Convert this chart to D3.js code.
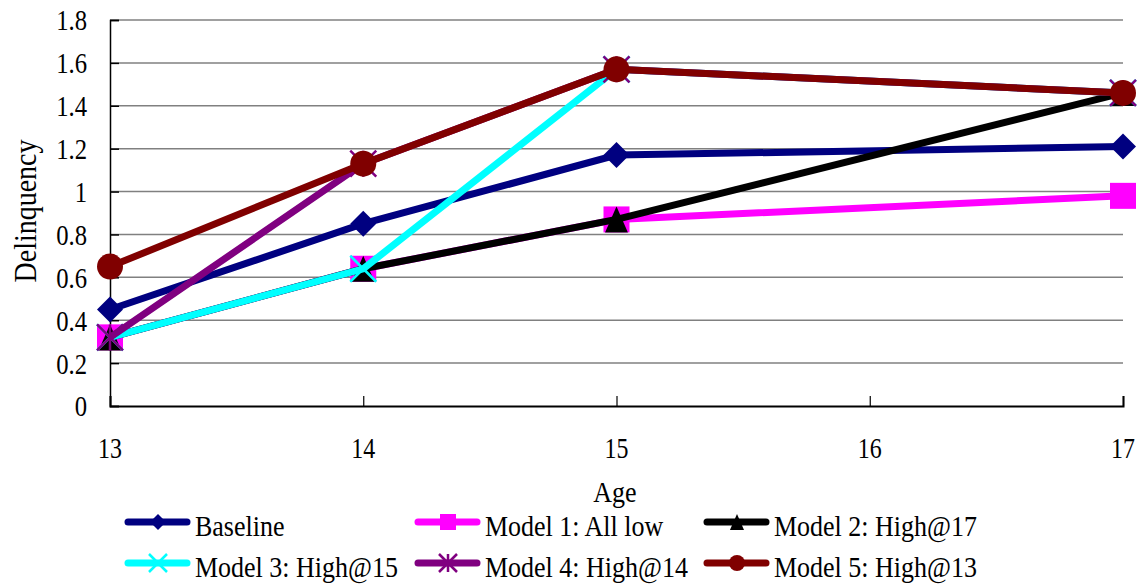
<!DOCTYPE html>
<html><head><meta charset="utf-8">
<script src="https://cdn.jsdelivr.net/npm/d3@7"></script>
<style>body{margin:0;background:#fff}svg{display:block}</style>
</head><body><svg id="c" width="1147" height="587" style="font-family:'Liberation Serif','DejaVu Serif',serif"></svg>
<script>
const ages = [13, 14, 15, 17];
const xTicks = [13, 14, 15, 16, 17];
const yTicks = [0, 0.2, 0.4, 0.6, 0.8, 1, 1.2, 1.4, 1.6, 1.8];
const seriesNames = ["Baseline", "Model 1: All low", "Model 2: High@17", "Model 3: High@15", "Model 4: High@14", "Model 5: High@13"];
const baseline = [0.45, 0.85, 1.17, 1.21];
const model1 = [0.32, 0.64, 0.87, 0.98];
const model2 = [0.32, 0.64, 0.87, 1.46];
const model3 = [0.32, 0.64, 1.57, 1.46];
const model4 = [0.32, 1.13, 1.57, 1.46];
const model5 = [0.65, 1.13, 1.57, 1.46];
const colors = ["#000080", "#FF00FF", "#000000", "#00FFFF", "#800080", "#800000"];
const shapes = ["diamond", "square", "triangle", "x", "star", "circle"];
const values = [baseline, model1, model2, model3, model4, model5];
const FONT = "'Liberation Serif','DejaVu Serif',serif";

const svg = d3.select("#c");
const x = d3.scaleLinear().domain([13, 17]).range([110, 1123]);
const y = d3.scaleLinear().domain([0, 1.8]).range([406, 20]);

// text helper: tall, slightly condensed serif look
function label(parent, tx, ty, str, opts = {}) {
  const sx = opts.sx || 1, sy = opts.sy || 1.15, rot = opts.rot || 0;
  return parent.append("text")
    .attr("transform", `translate(${tx},${ty}) rotate(${rot}) scale(${sx},${sy})`)
    .attr("text-anchor", opts.anchor || "start")
    .attr("dy", "0.35em")
    .attr("font-family", FONT).attr("font-size", opts.size || 26)
    .attr("fill", "#000").text(str);
}

// gridlines
svg.append("g").selectAll("line").data(yTicks.filter(d => d > 0)).join("line")
  .attr("x1", 110).attr("x2", 1123).attr("y1", d => y(d)).attr("y2", d => y(d))
  .attr("stroke", "#808080").attr("stroke-width", 1.5);

// y axis
const ya = svg.append("g").attr("transform", "translate(110,0)")
  .call(d3.axisRight(y).tickValues(yTicks).tickSize(9).tickFormat(""));
ya.select(".domain").attr("stroke", "#000").attr("stroke-width", 1.5);
ya.selectAll(".tick line").attr("stroke", "#000").attr("stroke-width", 1.5);
const yl = svg.append("g");
yTicks.forEach(d => label(yl, 87, y(d), d3.format("")(d), {anchor: "end", sx: 0.95}));

// x axis
const xa = svg.append("g").attr("transform", "translate(0,406)")
  .call(d3.axisTop(x).tickValues(xTicks).tickSize(10).tickFormat(""));
xa.select(".domain").attr("stroke", "#000").attr("stroke-width", 2);
xa.selectAll(".tick line").attr("stroke", "#000").attr("stroke-width", 1.2);
const xl = svg.append("g");
xTicks.forEach(d => label(xl, x(d), 448, d, {anchor: "middle", sx: 0.92}));

label(svg, 615, 492, "Age", {anchor: "middle"});
label(svg, 25, 211, "Delinquency", {anchor: "middle", rot: -90, size: 28});

function marker(g, shape, color, s) {
  if (shape === "diamond") g.append("path").attr("d", `M0,${-s}L${s},0L0,${s}L${-s},0Z`).attr("fill", color);
  else if (shape === "square") g.append("rect").attr("x", -s).attr("y", -s).attr("width", 2*s).attr("height", 2*s).attr("fill", color);
  else if (shape === "triangle") g.append("path").attr("d", `M0,${-s}L${s*0.88},${s}L${-s*0.88},${s}Z`).attr("fill", color);
  else if (shape === "circle") g.append("circle").attr("r", s).attr("fill", color);
  else if (shape === "x") g.append("path").attr("d", `M${-s},${-s}L${s},${s}M${-s},${s}L${s},${-s}`).attr("stroke", color).attr("stroke-width", 2.5);
  else if (shape === "star") g.append("path").attr("d", `M${-s},${-s}L${s},${s}M${-s},${s}L${s},${-s}M0,${-s}L0,${s}`).attr("stroke", color).attr("stroke-width", 2.5);
}

const line = d3.line().x((d, i) => x(ages[i])).y(d => y(d));
values.forEach((vals, k) => {
  svg.append("path").attr("d", line(vals)).attr("fill", "none")
    .attr("stroke", colors[k]).attr("stroke-width", 7).attr("stroke-linejoin", "miter");
  vals.forEach((v, i) => {
    const g = svg.append("g").attr("transform", `translate(${x(ages[i])},${y(v)})`);
    marker(g, shapes[k], colors[k], 13);
  });
});

// legend
const legX = [125, 415, 704];
const legY = [522, 563];
seriesNames.forEach((name, k) => {
  const lx = legX[k % 3], ly = legY[Math.floor(k / 3)];
  svg.append("line").attr("x1", lx + 3).attr("x2", lx + 62).attr("y1", ly).attr("y2", ly)
    .attr("stroke", colors[k]).attr("stroke-width", 7).attr("stroke-linecap", "round");
  const g = svg.append("g").attr("transform", `translate(${lx + 33},${ly})`);
  marker(g, shapes[k], colors[k], shapes[k] === "x" || shapes[k] === "star" ? 9 : 8);
  label(svg, lx + 70, ly + 4, name);
});
</script></body></html>
